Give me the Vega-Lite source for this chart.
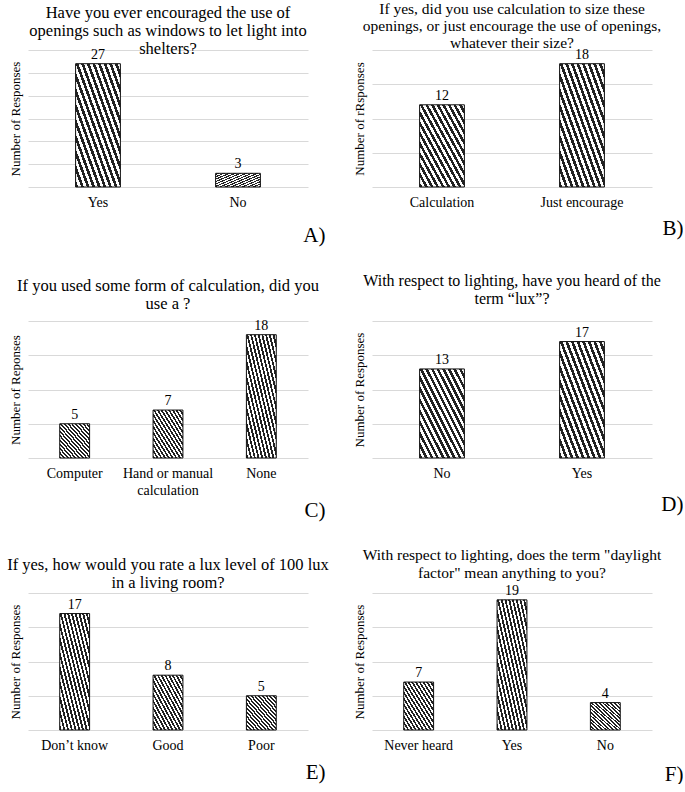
{
  "$schema": "https://vega.github.io/schema/vega-lite/v6.json",
  "background": "white",
  "padding": {"left": 7, "top": 2, "right": 0, "bottom": 0},
  "datasets": {
    "a": [{"answer": "Yes", "n": 27}, {"answer": "No", "n": 3}],
    "b": [{"answer": "Calculation", "n": 12}, {"answer": "Just encourage", "n": 18}],
    "c": [{"answer": "Computer", "n": 5}, {"answer": "Hand or manual calculation", "n": 7}, {"answer": "None", "n": 18}],
    "d": [{"answer": "No", "n": 13}, {"answer": "Yes", "n": 17}],
    "e": [{"answer": "Don’t know", "n": 17}, {"answer": "Good", "n": 8}, {"answer": "Poor", "n": 5}],
    "f": [{"answer": "Never heard", "n": 7}, {"answer": "Yes", "n": 19}, {"answer": "No", "n": 4}]
  },
  "config": {
    "font": "Times New Roman, Liberation Serif, DejaVu Serif, serif",
    "view": {"stroke": null},
    "title": {"font": "Times New Roman, Liberation Serif, DejaVu Serif, serif", "fontSize": 16, "fontWeight": "normal", "color": "black", "lineHeight": 18, "offset": 6},
    "axis": {"labelFont": "Times New Roman, Liberation Serif, DejaVu Serif, serif", "titleFont": "Times New Roman, Liberation Serif, DejaVu Serif, serif", "labelColor": "black", "titleColor": "black", "titleFontWeight": "normal"},
    "axisX": {"domain": false, "ticks": false, "labelAngle": 0, "labelFontSize": 14, "labelPadding": 8, "labelLineHeight": 17, "titleFontSize": 21, "titleAlign": "right", "titleBaseline": "alphabetic", "titleX": 297, "titleY": 54},
    "axisY": {"domain": false, "ticks": false, "labels": false, "grid": true, "gridColor": "#d9d9d9", "gridWidth": 1, "titleFontSize": 13, "titlePadding": 6},
    "bar": {
      "stroke": "#111",
      "strokeWidth": 1,
      "fill": {
        "gradient": "linear", "x1": 0, "y1": 1, "x2": 1, "y2": 0,
        "stops": [
          {"offset": 0, "color": "#222"}, {"offset": 0.03125, "color": "#222"}, {"offset": 0.03125, "color": "#fff"}, {"offset": 0.0625, "color": "#fff"},
          {"offset": 0.0625, "color": "#222"}, {"offset": 0.09375, "color": "#222"}, {"offset": 0.09375, "color": "#fff"}, {"offset": 0.125, "color": "#fff"},
          {"offset": 0.125, "color": "#222"}, {"offset": 0.15625, "color": "#222"}, {"offset": 0.15625, "color": "#fff"}, {"offset": 0.1875, "color": "#fff"},
          {"offset": 0.1875, "color": "#222"}, {"offset": 0.21875, "color": "#222"}, {"offset": 0.21875, "color": "#fff"}, {"offset": 0.25, "color": "#fff"},
          {"offset": 0.25, "color": "#222"}, {"offset": 0.28125, "color": "#222"}, {"offset": 0.28125, "color": "#fff"}, {"offset": 0.3125, "color": "#fff"},
          {"offset": 0.3125, "color": "#222"}, {"offset": 0.34375, "color": "#222"}, {"offset": 0.34375, "color": "#fff"}, {"offset": 0.375, "color": "#fff"},
          {"offset": 0.375, "color": "#222"}, {"offset": 0.40625, "color": "#222"}, {"offset": 0.40625, "color": "#fff"}, {"offset": 0.4375, "color": "#fff"},
          {"offset": 0.4375, "color": "#222"}, {"offset": 0.46875, "color": "#222"}, {"offset": 0.46875, "color": "#fff"}, {"offset": 0.5, "color": "#fff"},
          {"offset": 0.5, "color": "#222"}, {"offset": 0.53125, "color": "#222"}, {"offset": 0.53125, "color": "#fff"}, {"offset": 0.5625, "color": "#fff"},
          {"offset": 0.5625, "color": "#222"}, {"offset": 0.59375, "color": "#222"}, {"offset": 0.59375, "color": "#fff"}, {"offset": 0.625, "color": "#fff"},
          {"offset": 0.625, "color": "#222"}, {"offset": 0.65625, "color": "#222"}, {"offset": 0.65625, "color": "#fff"}, {"offset": 0.6875, "color": "#fff"},
          {"offset": 0.6875, "color": "#222"}, {"offset": 0.71875, "color": "#222"}, {"offset": 0.71875, "color": "#fff"}, {"offset": 0.75, "color": "#fff"},
          {"offset": 0.75, "color": "#222"}, {"offset": 0.78125, "color": "#222"}, {"offset": 0.78125, "color": "#fff"}, {"offset": 0.8125, "color": "#fff"},
          {"offset": 0.8125, "color": "#222"}, {"offset": 0.84375, "color": "#222"}, {"offset": 0.84375, "color": "#fff"}, {"offset": 0.875, "color": "#fff"},
          {"offset": 0.875, "color": "#222"}, {"offset": 0.90625, "color": "#222"}, {"offset": 0.90625, "color": "#fff"}, {"offset": 0.9375, "color": "#fff"},
          {"offset": 0.9375, "color": "#222"}, {"offset": 0.96875, "color": "#222"}, {"offset": 0.96875, "color": "#fff"}, {"offset": 1, "color": "#fff"}
        ]
      }
    },
    "text": {"fontSize": 14, "color": "black", "font": "Times New Roman, Liberation Serif, DejaVu Serif, serif"}
  },
  "columns": 2,
  "spacing": {"row": 28, "column": 24},
  "concat": [
    {
      "width": 280, "height": 137,
      "title": {"text": ["Have you ever encouraged the use of", "openings such as windows to let light into", "shelters?"], "fontSize": 16.5, "lineHeight": 18, "offset": -10},
      "data": {"name": "a"},
      "encoding": {
        "x": {"field": "answer", "type": "nominal", "sort": null, "scale": {"paddingInner": 0.68, "paddingOuter": 0.34}, "axis": {"title": "A)"}},
        "y": {"field": "n", "type": "quantitative", "scale": {"domain": [0, 30]}, "axis": {"title": "Number of Responses", "values": [0, 5, 10, 15, 20, 25, 30]}}
      },
      "layer": [
        {"mark": "bar"},
        {"mark": {"type": "text", "dy": -9}, "encoding": {"text": {"field": "n", "type": "quantitative"}}}
      ]
    },
    {
      "width": 280, "height": 137,
      "title": {"text": ["If yes, did you use calculation to size these", "openings, or just encourage the use of openings,", "whatever their size?"], "fontSize": 15.5, "lineHeight": 17, "offset": -4},
      "data": {"name": "b"},
      "encoding": {
        "x": {"field": "answer", "type": "nominal", "sort": null, "scale": {"paddingInner": 0.68, "paddingOuter": 0.34}, "axis": {"title": "B)", "titleX": 311, "titleY": 47}},
        "y": {"field": "n", "type": "quantitative", "scale": {"domain": [0, 20]}, "axis": {"title": "Number of rRsponses", "values": [0, 5, 10, 15, 20]}}
      },
      "layer": [
        {"mark": "bar"},
        {"mark": {"type": "text", "dy": -9}, "encoding": {"text": {"field": "n", "type": "quantitative"}}}
      ]
    },
    {
      "width": 280, "height": 137,
      "title": {"text": ["If you used some form of calculation, did you", "use a ?"], "fontSize": 16.5},
      "data": {"name": "c"},
      "encoding": {
        "x": {"field": "answer", "type": "nominal", "sort": null, "scale": {"paddingInner": 0.68, "paddingOuter": 0.34}, "axis": {"title": "C)", "titleY": 58, "labelExpr": "datum.label == 'Hand or manual calculation' ? ['Hand or manual', 'calculation'] : datum.label"}},
        "y": {"field": "n", "type": "quantitative", "scale": {"domain": [0, 20]}, "axis": {"title": "Number of Reponses", "values": [0, 5, 10, 15, 20]}}
      },
      "layer": [
        {"mark": "bar"},
        {"mark": {"type": "text", "dy": -9}, "encoding": {"text": {"field": "n", "type": "quantitative"}}}
      ]
    },
    {
      "width": 280, "height": 137,
      "title": {"text": ["With respect to lighting, have you heard of the", "term “lux”?"], "fontSize": 16, "offset": 14},
      "data": {"name": "d"},
      "encoding": {
        "x": {"field": "answer", "type": "nominal", "sort": null, "scale": {"paddingInner": 0.68, "paddingOuter": 0.34}, "axis": {"title": "D)", "titleX": 311, "titleY": 52}},
        "y": {"field": "n", "type": "quantitative", "scale": {"domain": [0, 20]}, "axis": {"title": "Number of Responses", "values": [0, 5, 10, 15, 20]}}
      },
      "layer": [
        {"mark": "bar"},
        {"mark": {"type": "text", "dy": -9}, "encoding": {"text": {"field": "n", "type": "quantitative"}}}
      ]
    },
    {
      "width": 280, "height": 137,
      "title": {"text": ["If yes, how would you rate a lux level of 100 lux", "in a living room?"], "fontSize": 16.5, "offset": 2},
      "data": {"name": "e"},
      "encoding": {
        "x": {"field": "answer", "type": "nominal", "sort": null, "scale": {"paddingInner": 0.68, "paddingOuter": 0.34}, "axis": {"title": "E)", "titleY": 48}},
        "y": {"field": "n", "type": "quantitative", "scale": {"domain": [0, 20]}, "axis": {"title": "Number of Responses", "values": [0, 5, 10, 15, 20]}}
      },
      "layer": [
        {"mark": "bar"},
        {"mark": {"type": "text", "dy": -9}, "encoding": {"text": {"field": "n", "type": "quantitative"}}}
      ]
    },
    {
      "width": 280, "height": 137,
      "title": {"text": ["With respect to lighting, does the term \"daylight", "factor\" mean anything to you?"], "fontSize": 15.5, "offset": 2},
      "data": {"name": "f"},
      "encoding": {
        "x": {"field": "answer", "type": "nominal", "sort": null, "scale": {"paddingInner": 0.68, "paddingOuter": 0.34}, "axis": {"title": "F)", "titleX": 311, "titleY": 50}},
        "y": {"field": "n", "type": "quantitative", "scale": {"domain": [0, 20]}, "axis": {"title": "Number of Responses", "values": [0, 5, 10, 15, 20]}}
      },
      "layer": [
        {"mark": "bar"},
        {"mark": {"type": "text", "dy": -9}, "encoding": {"text": {"field": "n", "type": "quantitative"}}}
      ]
    }
  ]
}
